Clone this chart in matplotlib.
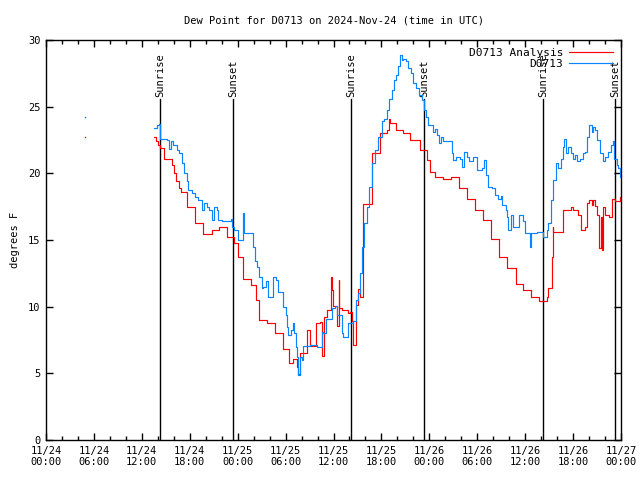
#!/usr/bin/env python3
# -*- coding: utf-8 -*-

"""
Dew point for D0713, analysis vs. observation, 2024-Nov-24 .. 27 (UTC)
"""

import matplotlib
matplotlib.use("Agg")
import matplotlib.pyplot as plt
import numpy as np
from datetime import datetime, timedelta
import matplotlib.dates as mdates

# ---------------------------------------------------------
# Data (hours since 2024-11-24 00:00 UTC, dew point in F)
# ---------------------------------------------------------
start = datetime(2024, 11, 24)

anl_hours = [13.52, 13.8, 14.0, 14.28, 14.78, 15.74, 16.0, 16.3, 16.6, 16.9,
             17.69, 18.66, 19.70, 20.75, 21.66, 22.70, 23.6, 24.08, 24.71,
             25.67, 26.30, 26.71, 27.71, 28.68, 29.64, 30.47, 30.89, 31.39,
             31.56, 31.81, 32.72, 33.06, 33.81, 34.31, 34.52, 34.81, 35.15,
             35.69, 35.81, 35.98, 36.40, 36.69, 36.73, 37.03, 37.78, 38.07,
             38.35, 38.48, 38.78, 39.03, 39.32, 39.73, 40.78, 41.82, 42.66,
             42.99, 43.08, 43.83, 44.67, 45.58, 46.83, 47.67, 48.08, 48.71,
             49.75, 50.68, 51.72, 52.68, 53.72, 54.68, 55.72, 56.72, 57.76,
             58.82, 59.77, 60.73, 61.77, 62.70, 62.90, 63.32, 63.45, 63.52,
             64.78, 65.70, 65.95, 66.65, 66.95, 67.49, 67.70, 67.99, 68.33,
             68.53, 68.74, 68.96, 69.25, 69.46, 69.58, 69.71, 70.00, 70.54,
             70.84, 71.25, 71.88, 72.0]
anl_vals = [22.7, 22.4, 22.1, 21.9, 21.1, 20.6, 20.0, 19.4, 18.9, 18.6,
            17.45, 16.3, 15.45, 15.75, 15.95, 15.25, 14.8, 13.7, 12.05,
            11.6, 10.5, 9.0, 8.75, 8.05, 6.8, 5.8, 6.05, 5.5,
            4.95, 6.5, 8.25, 7.05, 8.75, 8.85, 6.3, 9.2, 9.75,
            12.25, 11.25, 10.05, 8.55, 12.0, 9.9, 9.75, 9.5, 9.6,
            8.9, 7.1, 10.1, 11.3, 10.7, 17.7, 21.5, 23.0, 23.25,
            24.1, 23.75, 23.25, 23.0, 22.5, 21.75, 21.0, 20.1, 19.7,
            19.6, 19.7, 18.9, 18.1, 17.25, 16.5, 15.1, 13.75, 12.9,
            11.7, 11.25, 10.75, 10.4, 10.75, 11.4, 13.75, 16.0, 15.6,
            17.25, 17.5, 17.25, 16.9, 15.75, 16.0, 17.75, 18.0, 17.6,
            18.0, 17.55, 16.9, 14.4, 16.75, 14.25, 17.5, 16.9, 16.75,
            18.1, 17.9, 18.25, 18.25]

obs_hours = [13.52, 13.86, 14.19, 14.28, 15.11, 15.40, 15.65, 15.94, 16.37,
             16.69, 16.99, 17.32, 17.62, 17.82, 18.24, 18.66, 19.07, 19.57,
             19.82, 20.12, 20.45, 20.82, 21.07, 21.37, 21.58, 22.08, 23.13,
             23.33, 23.58, 24.00, 24.63, 24.76, 25.86, 25.96, 26.17, 26.46,
             26.71, 27.01, 27.21, 27.55, 27.84, 28.46, 28.80, 29.09, 29.72,
             30.05, 30.22, 30.34, 30.64, 30.89, 31.05, 31.31, 31.47, 31.59,
             31.81, 32.02, 32.22, 33.06, 33.90, 34.52, 34.72, 35.06, 35.78,
             36.19, 36.48, 37.03, 37.23, 37.85, 38.48, 38.82, 39.11, 39.32,
             39.61, 39.86, 40.16, 40.49, 40.78, 41.20, 41.61, 42.04, 42.32,
             42.66, 42.99, 43.29, 43.58, 43.83, 44.11, 44.33, 44.54, 44.74,
             45.08, 45.37, 45.67, 45.99, 46.33, 46.74, 47.05, 47.33, 47.58,
             47.87, 48.42, 48.71, 48.92, 49.25, 49.46, 49.67, 50.80, 51.00,
             51.34, 51.84, 52.05, 52.38, 52.68, 53.01, 53.43, 54.01, 54.56,
             54.85, 55.10, 55.39, 55.81, 56.22, 56.64, 56.94, 57.06, 57.56,
             57.76, 57.89, 58.19, 58.52, 59.23, 59.77, 59.98, 60.61, 60.79,
             61.44, 62.27, 62.70, 62.90, 63.20, 63.45, 63.86, 64.15, 64.45,
             64.78, 64.90, 65.11, 65.40, 65.70, 65.95, 66.24, 66.53, 66.87,
             67.21, 67.49, 67.78, 68.03, 68.33, 68.53, 68.74, 69.03, 69.37,
             69.71, 70.00, 70.42, 70.71, 70.96, 71.13, 71.46, 71.66, 71.88,
             72.0]
obs_vals = [23.4, 23.6, 23.7, 22.6, 22.5, 21.8, 22.4, 22.1, 21.75,
            21.5, 20.75, 20.0, 19.4, 18.75, 18.5, 18.2, 18.0, 17.25,
            17.8, 17.5, 17.25, 16.5, 17.5, 17.25, 16.5, 16.4, 16.6,
            16.0, 15.75, 15.0, 17.0, 15.5, 15.1, 14.5, 13.4, 13.0,
            12.25, 11.4, 11.5, 11.9, 10.75, 12.2, 12.0, 11.1, 10.0,
            9.4, 8.5, 7.9, 8.25, 8.75, 8.0, 7.0, 6.25, 4.9,
            6.25, 6.0, 7.05, 7.1, 7.0, 8.1, 8.0, 9.1, 9.9,
            10.05, 9.4, 8.0, 7.75, 8.8, 8.9, 10.5, 11.0, 12.5,
            14.5, 16.25, 17.5, 19.0, 20.75, 21.75, 22.75, 23.9, 24.1,
            24.75, 25.6, 26.25, 27.0, 27.4, 28.05, 28.9, 28.5, 28.6,
            28.4, 27.9, 27.5, 26.75, 26.4, 25.9, 25.5, 24.75, 24.25,
            23.6, 23.1, 23.3, 22.9, 22.25, 22.75, 22.4, 21.5, 21.0,
            21.25, 21.1, 20.5, 21.6, 21.25, 20.9, 21.25, 20.25, 20.4,
            21.0, 19.9, 19.0, 18.9, 18.4, 18.1, 18.3, 17.6, 17.25,
            16.75, 15.75, 16.9, 16.0, 16.9, 16.4, 15.5, 14.5, 15.5,
            15.6, 15.25, 15.75, 16.25, 18.0, 19.5, 20.75, 20.4, 21.1,
            22.0, 22.6, 21.5, 22.0, 21.5, 21.1, 21.4, 20.9, 21.1,
            21.5, 21.6, 22.75, 23.6, 23.1, 23.5, 23.25, 22.5, 21.5,
            20.9, 21.25, 21.6, 22.1, 22.4, 21.1, 20.6, 20.4, 19.75,
            20.1]

# isolated early values around 05 UTC
early_hour = [4.88]
early_anl = [22.75]
early_obs = [24.25]

# sunrise / sunset times (hours since start)
sun_hours = [14.28, 23.42, 38.19, 47.33, 62.23, 71.25]
sun_labels = ['Sunrise', 'Sunset', 'Sunrise', 'Sunset', 'Sunrise', 'Sunset']


def to_dt(hours):
    return [start + timedelta(hours=h) for h in hours]


# ---------------------------------------------------------
# Plot
# ---------------------------------------------------------
plt.rcParams['font.family'] = 'DejaVu Sans Mono'
plt.rcParams['font.size'] = 7.5

fig = plt.figure(figsize=(6.4, 4.8), dpi=100)
ax = fig.add_axes([46 / 640, 40 / 480, 575 / 640, 400 / 480])

red = '#ff0000'
blue = '#0a84ff'

ax.plot(to_dt(anl_hours), anl_vals, color=red, lw=0.85, drawstyle='steps-post',
        label='D0713 Analysis', zorder=3)
ax.plot(to_dt(obs_hours), obs_vals, color=blue, lw=0.85, drawstyle='steps-post',
        label='D0713', zorder=4)
ax.plot(to_dt(early_hour), early_anl, 's', color=red, ms=1, mew=0)
ax.plot(to_dt(early_hour), early_obs, 's', color=blue, ms=1, mew=0)

# sunrise / sunset markers
for h, lab in zip(sun_hours, sun_labels):
    t = start + timedelta(hours=h)
    ax.plot([t, t], [0, 25.6], color='black', lw=1.0, zorder=2)
    ax.text(t, 25.75, lab, rotation=90, ha='center', va='bottom', fontsize=7.5)

ax.set_xlim(start, start + timedelta(hours=72))
ax.set_ylim(0, 30)

ax.xaxis.set_major_locator(mdates.HourLocator(byhour=[0, 6, 12, 18]))
ax.xaxis.set_minor_locator(mdates.HourLocator(byhour=range(0, 24, 2)))
ax.xaxis.set_major_formatter(mdates.DateFormatter('%m/%d\n%H:%M'))
ax.set_yticks(np.arange(0, 31, 5))

ax.tick_params(which='both', direction='in', top=True, right=True, width=1,
               labelsize=7.5)
ax.tick_params(which='major', length=5, pad=4)
ax.tick_params(which='minor', length=3)
for s in ax.spines.values():
    s.set_linewidth(1)

ax.set_ylabel('degrees F', fontsize=7.5, labelpad=6)
ax.set_title('Dew Point for D0713 on 2024-Nov-24 (time in UTC)', fontsize=7.5, pad=12)

ax.legend(loc='upper right', frameon=False, markerfirst=False, handlelength=4,
          fontsize=8, borderaxespad=0.3, labelspacing=0.1, handletextpad=0.5)

fig.savefig('out.png', dpi=100)
plt.close()
